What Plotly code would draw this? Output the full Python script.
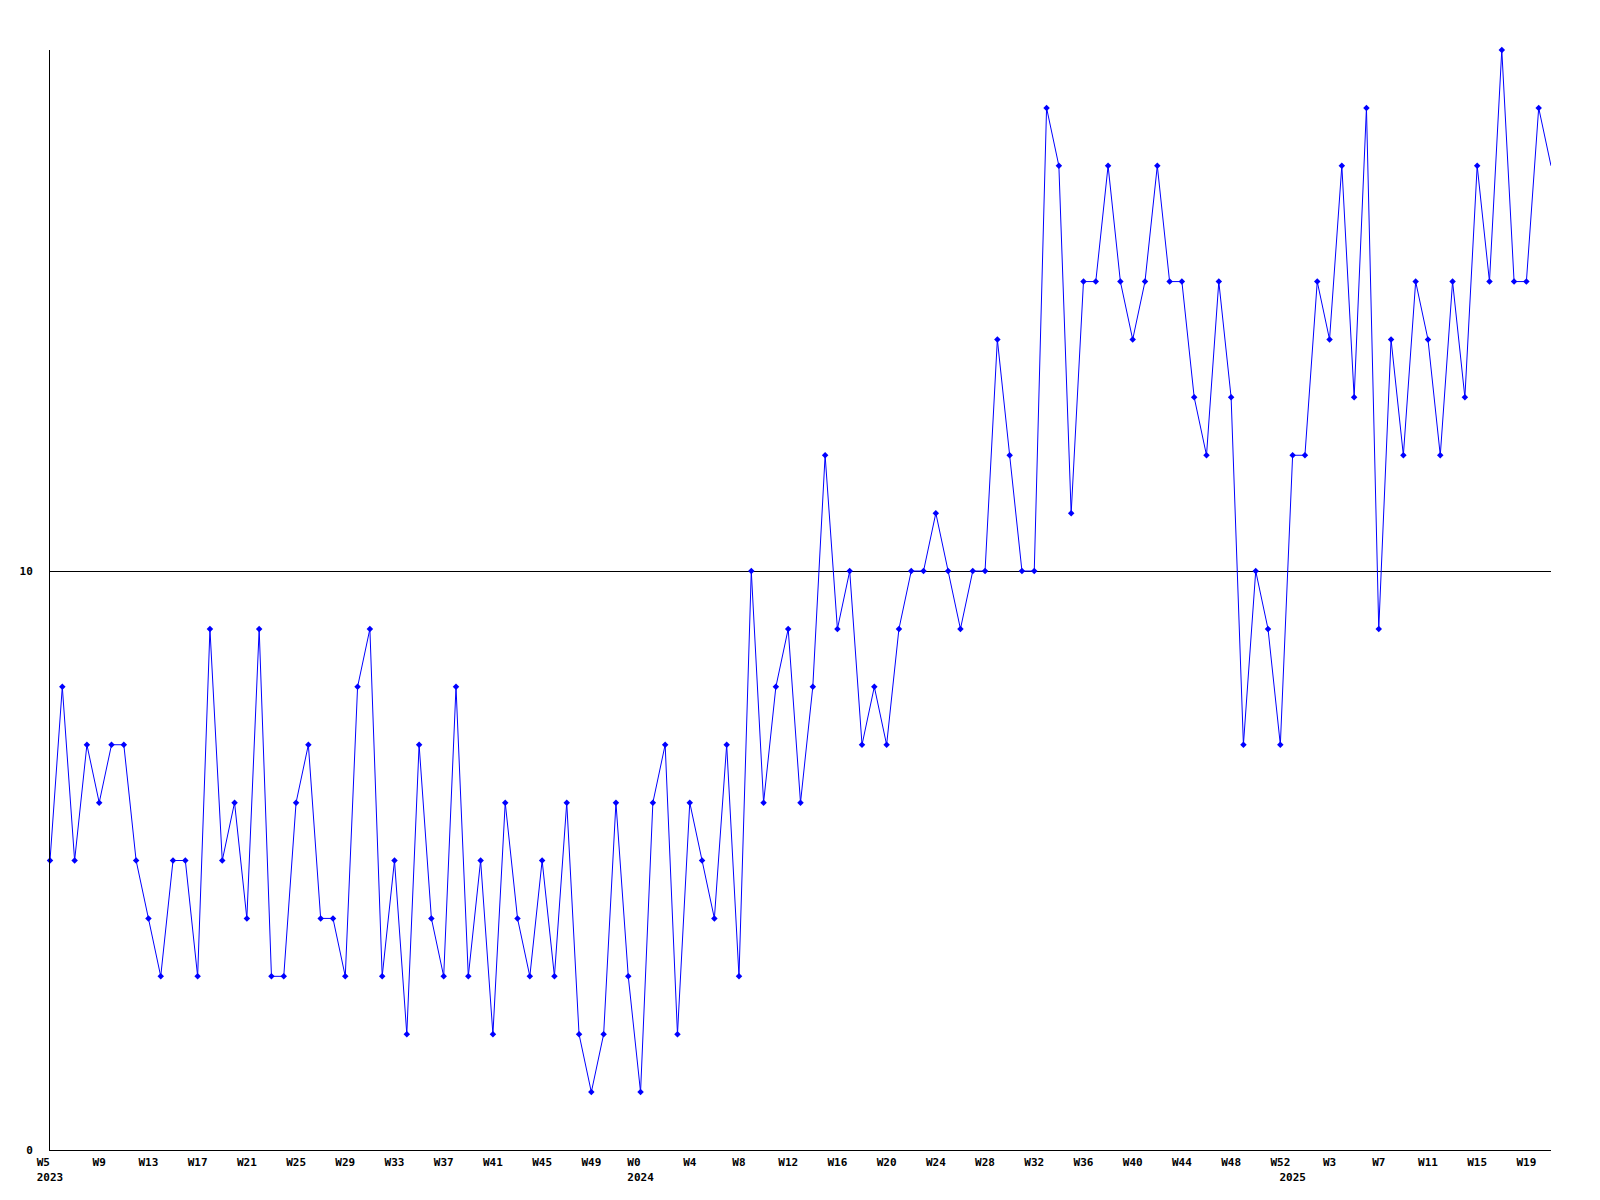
import plotly.graph_objects as go

# --- data ---
years = [2023] * 48 + [2024] * 53 + [2025] * 22
weeks = list(range(5, 53)) + list(range(0, 53)) + list(range(0, 22))
values = [
    5, 8, 5, 7, 6, 7, 7, 5, 4, 3,
    5, 5, 3, 9, 5, 6, 4, 9, 3, 3,
    6, 7, 4, 4, 3, 8, 9, 3, 5, 2,
    7, 4, 3, 8, 3, 5, 2, 6, 4, 3,
    5, 3, 6, 2, 1, 2, 6, 3, 1, 6,
    7, 2, 6, 5, 4, 7, 3, 10, 6, 8,
    9, 6, 8, 12, 9, 10, 7, 8, 7, 9,
    10, 10, 11, 10, 9, 10, 10, 14, 12, 10,
    10, 18, 17, 11, 15, 15, 17, 15, 14, 15,
    17, 15, 15, 13, 12, 15, 13, 7, 10, 9,
    7, 12, 12, 15, 14, 17, 13, 18, 9, 14,
    12, 15, 14, 12, 15, 13, 17, 15, 19, 15,
    15, 18, 17,
]
y_ticks = [0, 10]

categories = [f"{y}-W{w:02d}" for y, w in zip(years, weeks)]
NB = "\u00a0"

tickvals, ticktext = [], []
for i, cat in enumerate(categories):
    first_of_year = i == 0 or years[i] != years[i - 1]
    wk = f"W{weeks[i]}"
    if i % 4 == 0:
        tickvals.append(cat)
        if first_of_year:
            ticktext.append(wk + NB * (4 - len(wk)) + "<br>" + str(years[i]))
        else:
            ticktext.append(wk)
    elif first_of_year:
        tickvals.append(cat)
        ticktext.append(NB + "<br>" + str(years[i]))

fig = go.Figure()
fig.add_trace(go.Scatter(
    x=categories, y=values, mode="lines",
    line=dict(color="#0000ff", width=1),
    cliponaxis=True, showlegend=False, hoverinfo="skip",
))
# the last point sits on the right edge and shows no marker in the reference
fig.add_trace(go.Scatter(
    x=categories[:-1], y=values[:-1], mode="markers",
    marker=dict(symbol="diamond", size=5, color="#0000ff"),
    cliponaxis=False, showlegend=False,
))

tickfont = dict(family="DejaVu Sans Mono", size=11, color="black", weight="bold")
fig.update_layout(
    width=1584, height=1184,
    margin=dict(l=42, r=41, t=42, b=42),
    paper_bgcolor="white", plot_bgcolor="white",
    xaxis=dict(
        type="category", range=[0, len(categories) - 1],
        categoryorder="array", categoryarray=categories,
        tickmode="array", tickvals=tickvals, ticktext=ticktext,
        showline=True, linecolor="black", linewidth=1,
        showgrid=False, zeroline=False, ticks="", tickangle=0,
        tickfont=tickfont, ticklabelstandoff=2, automargin=False,
    ),
    yaxis=dict(
        range=[0, 19], tickmode="array", tickvals=y_ticks,
        ticktext=[str(v) for v in y_ticks],
        showline=True, linecolor="black", linewidth=1,
        showgrid=True, gridcolor="black", gridwidth=1, zeroline=False,
        ticks="", tickfont=tickfont, ticklabelstandoff=14, automargin=False,
    ),
)
fig.write_html("out.html")
